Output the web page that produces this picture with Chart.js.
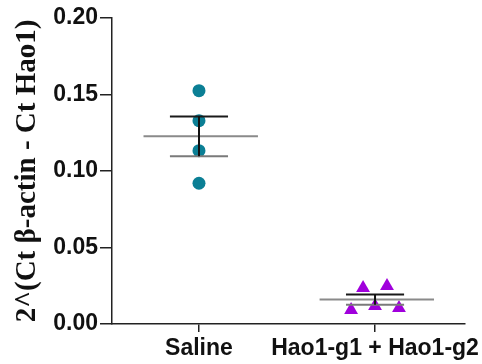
<!DOCTYPE html>
<html lang="en">
<head>
<meta charset="UTF-8">
<title>Hao1 expression</title>
<script src="https://cdn.jsdelivr.net/npm/chart.js"></script>
<style>
  body { margin: 0; background: #ffffff; }
  canvas { display: block; }
</style>
</head>
<body>
<canvas id="myChart" width="482" height="364"></canvas>
<script>
// values
const categories = ['Saline', 'Hao1-g1 + Hao1-g2'];
const salineValues = [0.1525, 0.1329, 0.1133, 0.0920];
const haoValues = [0.0092, 0.0235, 0.0118, 0.0248, 0.0105];
const yTicks = [0, 0.05, 0.10, 0.15, 0.20];
const yTitle = '2^(Ct \u03b2-actin - Ct Hao1)';

const groups = [
  { values: salineValues, x: 1, spread: 0, color: '#0b7f95', style: 'circle', radius: 6.5 },
  { values: haoValues, x: 2, spread: 0.068, color: '#a000dc', style: 'triangle', radius: 8 }
];

function mean(a) { return a.reduce((s, v) => s + v, 0) / a.length; }
function sem(a) {
  const m = mean(a);
  const sd = Math.sqrt(a.reduce((s, v) => s + (v - m) * (v - m), 0) / (a.length - 1));
  return sd / Math.sqrt(a.length);
}

function seg(x1, y1, x2, y2, color) {
  return {
    type: 'line',
    data: [{ x: x1, y: y1 }, { x: x2, y: y2 }],
    borderColor: color,
    borderWidth: 2,
    pointRadius: 0,
    borderCapStyle: 'butt',
    fill: false
  };
}

let lineSets = [];
let pointSets = [];
groups.forEach(g => {
  const m = mean(g.values);
  const e = sem(g.values);
  lineSets.push(seg(g.x, m - e, g.x, m + e, '#111111'));
  lineSets.push(seg(g.x - 0.165, m + e, g.x + 0.165, m + e, '#1a1a1a'));
  lineSets.push(seg(g.x - 0.165, m - e, g.x + 0.165, m - e, '#7a7a7a'));
  lineSets.push(seg(g.x - 0.315, m, g.x + 0.335, m, '#8a8a8a'));
  const n = g.values.length;
  pointSets.push({
    type: 'scatter',
    data: g.values.map((v, i) => ({ x: g.x + (i - (n - 1) / 2) * g.spread, y: v })),
    backgroundColor: g.color,
    borderColor: g.color,
    borderWidth: 0,
    pointStyle: g.style,
    pointRadius: g.radius
  });
});

const axisColor = '#222222';
const tickFont = { family: "'Liberation Sans', Arial, sans-serif", size: 23, weight: 'bold' };

new Chart(document.getElementById('myChart'), {
  type: 'scatter',
  data: { datasets: lineSets.concat(pointSets) },
  options: {
    responsive: false,
    animation: false,
    layout: { padding: { top: 18, right: 17, bottom: 0, left: 0 } },
    plugins: { legend: { display: false }, tooltip: { enabled: false } },
    scales: {
      x: {
        type: 'linear',
        min: 0.506,
        max: 2.511,
        afterBuildTicks: s => { s.ticks = categories.map((c, i) => ({ value: i + 1 })); },
        afterFit: s => { s.height = 40; s.paddingLeft = 0; s.paddingRight = 0; },
        ticks: {
          callback: v => categories[v - 1],
          font: tickFont,
          color: '#111111',
          padding: 3,
          maxRotation: 0,
          autoSkip: false
        },
        grid: { drawOnChartArea: false, drawTicks: true, tickLength: 8, color: axisColor, lineWidth: 1.5 },
        border: { display: true, color: axisColor, width: 1.5 }
      },
      y: {
        min: 0,
        max: 0.2,
        afterBuildTicks: s => { s.ticks = yTicks.map(v => ({ value: v })); },
        afterFit: s => { s.width = 112; },
        ticks: {
          callback: v => v.toFixed(2),
          font: tickFont,
          color: '#111111',
          padding: 2
        },
        grid: { drawOnChartArea: false, drawTicks: true, tickLength: 12, color: axisColor, lineWidth: 1.5 },
        border: { display: true, color: axisColor, width: 1.5 },
        title: {
          display: true,
          text: yTitle,
          color: '#111111',
          font: { family: "'Liberation Serif', 'Times New Roman', serif", size: 29, weight: 'bold' },
          padding: { top: 10, bottom: 0 }
        }
      }
    }
  }
});
</script>
</body>
</html>
